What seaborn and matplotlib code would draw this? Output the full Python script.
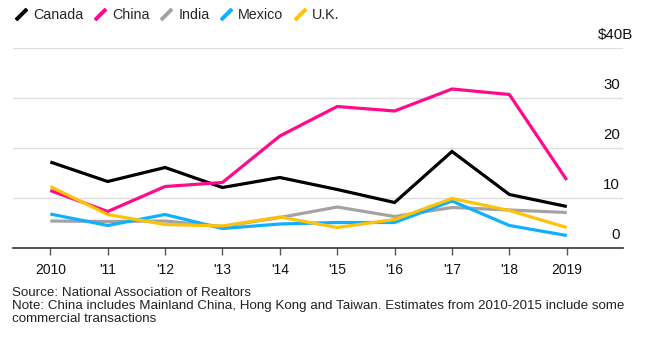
import matplotlib
matplotlib.use("Agg")
import matplotlib.pyplot as plt
import matplotlib.transforms as mtransforms
from matplotlib.lines import Line2D
import seaborn as sns
import pandas as pd

# Foreign buyers' purchases of U.S. homes, $ billions
years = [2010, 2011, 2012, 2013, 2014, 2015, 2016, 2017, 2018, 2019]
year_labels = ["2010", "'11", "'12", "'13", "'14", "'15", "'16", "'17", "'18", "2019"]
canada = [17.2, 13.3, 16.1, 12.1, 14.1, 11.7, 9.1, 19.3, 10.7, 8.3]
china = [11.5, 7.3, 12.3, 13.1, 22.4, 28.3, 27.4, 31.8, 30.7, 13.6]
india = [5.4, 5.3, 5.4, 4.3, 6.1, 8.2, 6.3, 8.1, 7.6, 7.1]
mexico = [6.8, 4.5, 6.7, 3.9, 4.8, 5.1, 5.1, 9.4, 4.5, 2.5]
uk = [12.3, 6.7, 4.7, 4.4, 6.2, 4.1, 5.7, 9.9, 7.5, 4.1]
countries = ["Canada", "China", "India", "Mexico", "U.K."]
y_ticks = [0, 10, 20, 30, 40]
y_labels = ["0", "10", "20", "30", "$40B"]

colors = ["#000000", "#ff0a8e", "#a3a3a3", "#10b0ff", "#ffc20a"]

df = pd.DataFrame({
    "year": years * 5,
    "value": canada + china + india + mexico + uk,
    "country": [c for c in countries for _ in years],
})

sns.set_theme(style="white")
plt.rcParams["font.family"] = ["Liberation Sans", "DejaVu Sans"]

W, H = 646, 342
fig = plt.figure(figsize=(W / 100, H / 100), dpi=100)
ax = fig.add_axes([13 / W, 1 - 248 / H, (623 - 13) / W, 200 / H])

sns.lineplot(data=df, x="year", y="value", hue="country", hue_order=countries,
             palette=colors, linewidth=2.3, legend=False, ax=ax,
             solid_joinstyle="miter", solid_capstyle="butt")

ax.set_xlim(2009.35, 2019.98)
ax.set_ylim(0, 40)
ax.set_xlabel("")
ax.set_ylabel("")

# horizontal gridlines
for v in y_ticks[1:]:
    ax.axhline(v, color="#dedede", linewidth=1.0, zorder=0)

for side in ["top", "left", "right"]:
    ax.spines[side].set_visible(False)
ax.spines["bottom"].set_color("#333333")
ax.spines["bottom"].set_linewidth(1.2)

ax.set_xticks(years)
ax.set_xticklabels(year_labels)
ax.tick_params(axis="x", direction="out", length=5, width=1, color="#555555",
               pad=5.5, labelsize=10, labelcolor="#111111", bottom=True)
ax.set_yticks([])

# value labels sit on the right, just above each gridline
trans = mtransforms.blended_transform_factory(fig.transFigure, ax.transData)
offset = mtransforms.ScaledTranslation(0, 9 / 100, fig.dpi_scale_trans)
for v, lab in zip(y_ticks, y_labels):
    x = 633 / W if lab.endswith("B") else 620 / W
    ax.text(x, v, lab, transform=trans + offset, ha="right", va="baseline",
            fontsize=10.8, color="#111111", clip_on=False)

# legend with slanted stroke handles
handles = [Line2D([], [], marker=(2, 2, -45), linestyle="none", markersize=11,
                  markeredgewidth=2.6, color=c) for c in colors]
fig.legend(handles, countries, loc="center left", bbox_to_anchor=(14 / W, 1 - 15 / H),
           ncol=5, frameon=False, fontsize=10.3, handlelength=1.0,
           handletextpad=0.35, columnspacing=0.65, borderaxespad=0, borderpad=0)

fig.text(12 / W, 1 - 287 / H, "Source: National Association of Realtors\n"
         "Note: China includes Mainland China, Hong Kong and Taiwan. Estimates from 2010-2015 include some\n"
         "commercial transactions",
         ha="left", va="top", fontsize=9.65, color="#222222", linespacing=1.1,
         transform=fig.transFigure)

fig.savefig("out.png", dpi=100)
